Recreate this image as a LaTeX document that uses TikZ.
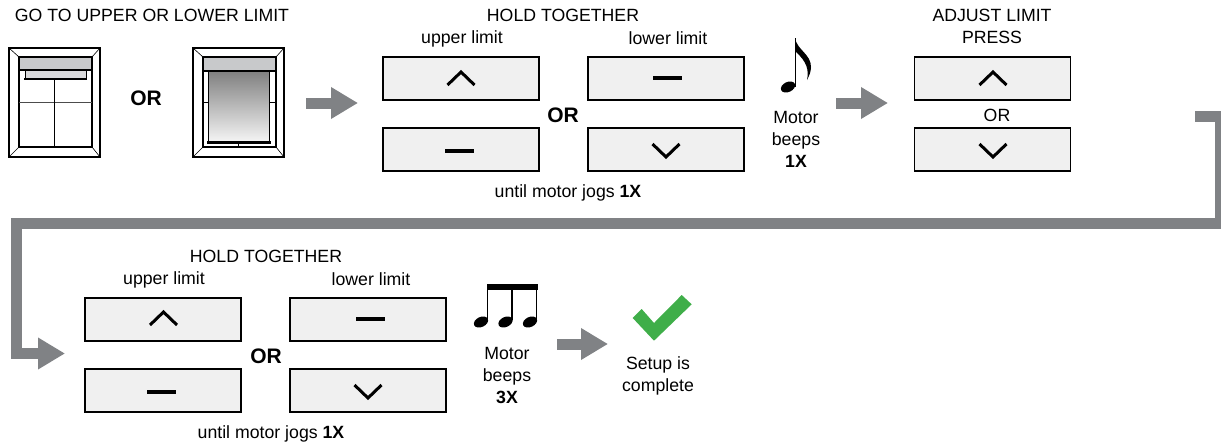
\documentclass[tikz,border=0pt]{standalone}
\usepackage{fontspec}
\setmainfont{Liberation Sans}
\usetikzlibrary{arrows.meta}

\definecolor{flowgray}{RGB}{128,130,133}
\definecolor{keyfill}{RGB}{240,240,240}
\definecolor{headgray}{RGB}{200,201,203}
\definecolor{tickgreen}{RGB}{63,174,73}

\tikzset{
  keybox/.style={draw=black,fill=keyfill,line width=1.9pt,inner sep=0pt,minimum width=156pt,minimum height=43pt},
  caption/.style={inner sep=0pt,align=center,font=\fontsize{17.7}{22}\selectfont},
  orbold/.style={inner sep=0pt,font=\fontsize{21}{24}\selectfont\bfseries},
  keymark/.style={line width=3pt},
  flowline/.style={draw=flowgray,line width=11pt},
  flowarrow/.style={flowline,-{Triangle[length=27pt,width=30pt]}}
}

\begin{document}
\begin{tikzpicture}[x=1pt,y=-1pt]
 \useasboundingbox (0,0) rectangle (1221,445);
 \clip (0,0) rectangle (1221,445);

 % texts, top row
 \node[caption] (t1) at (152,15) {GO TO UPPER OR LOWER LIMIT};
 \node[orbold] (or1) at (146,98) {OR};
 \node[caption] (t2) at (563,15) {HOLD TOGETHER};
 \node[caption] (t3) at (462,39) {upper limit};
 \node[caption] (t4) at (668,38.5) {lower limit};
 \node[orbold] (or2) at (563,115) {OR};
 \node[caption] (t5) at (568,192.5) {until motor jogs \textbf{1X}};
 \node[caption] (t6) at (796,139) {Motor\\beeps\\\textbf{1X}};
 \node[caption] (t7) at (992,26.5) {ADJUST LIMIT\\PRESS};
 \node[caption] (or3) at (997,115) {OR};

 % texts, bottom row
 \node[caption] (t8) at (266,256) {HOLD TOGETHER};
 \node[caption] (t9) at (164,280) {upper limit};
 \node[caption] (t10) at (371,279.5) {lower limit};
 \node[orbold] (or4) at (266,356) {OR};
 \node[caption] (t11) at (271,433.5) {until motor jogs \textbf{1X}};
 \node[caption] (t12) at (507,375.5) {Motor\\beeps\\\textbf{3X}};
 \node[caption] (t13) at (658,375.5) {Setup is\\complete};

 % keys
 \node[keybox] (k1) at (461,78.5) {};
 \node[keybox] (k2) at (666,78.5) {};
 \node[keybox] (k3) at (461,149.5) {};
 \node[keybox] (k4) at (666,149.5) {};
 \node[keybox] (k5) at (992.5,78.5) {};
 \node[keybox] (k6) at (992.5,149.5) {};
 \node[keybox] (k7) at (163,319.5) {};
 \node[keybox] (k8) at (368,319.5) {};
 \node[keybox] (k9) at (163,390.5) {};
 \node[keybox] (k10) at (368,390.5) {};

 \foreach \x/\y in {461/72,993/72,163.5/312}
   \draw[keymark] (\x-13.5,\y+13) -- (\x,\y) -- (\x+13.5,\y+13);
 \foreach \x/\y in {666/157,993/157,368/398}
   \draw[keymark] (\x-13.5,\y-13) -- (\x,\y) -- (\x+13.5,\y-13);
 \foreach \x/\y in {667.5/78,459.5/151,370.5/319,161.5/392}
   \draw[line width=3.4pt] (\x-14.5,\y) -- (\x+14.5,\y);

 % windows
 \foreach \s/\n in {0/a,184/b} {
   \begin{scope}[shift={(\s,0)}]
   \draw[line width=1.1pt] (9,48) rectangle (100,157);
   \draw[line width=1.1pt] (19,57) rectangle (92,147);
   \draw[line width=.6pt] (9,48) -- (19,57) (100,48) -- (92,57) (9,157) -- (19,147) (100,157) -- (92,147);
   \end{scope}
 }
 \draw[line width=1pt,black!70] (19,102) -- (92,102);
 \draw[line width=1pt] (54,79) -- (54,147);
 \draw[line width=.8pt,fill=headgray!70] (25,70) rectangle (86,79);
 \draw[line width=2pt] (24,79.3) -- (87,79.3);
 \draw[line width=1.8pt,fill=headgray] (19,57) rectangle (92,70);

 \draw[line width=.8pt] (203,102) -- (208,102) (269,102) -- (276,102) (238,144) -- (238,147);
 \shade[top color=black!50,bottom color=black!4] (208,71) rectangle (269,142);
 \draw[line width=1pt] (208,71) -- (208,142) (269,71) -- (269,142);
 \draw[line width=2.6pt] (207,142.5) -- (271,142.5);
 \draw[line width=1.8pt,fill=headgray] (203,57) rectangle (276,71);

 % notes
 \fill[rotate around={25:(788,87)}] (788,87) ellipse [x radius=7.5pt,y radius=5pt];
 \draw[line width=1pt] (795.5,87) -- (795.5,38);
 \fill (795,38) .. controls (797,50) and (811,54) .. (811,67) .. controls (811,72) and (809,76) .. (807,80) .. controls (809,70) and (807,62) .. (796,52) -- cycle;

 \foreach \x in {481,505.5,530} {
   \fill[rotate around={25:(\x,322)}] (\x,322) ellipse [x radius=7.5pt,y radius=5pt];
   \draw[line width=1.2pt] (\x+6.5,320) -- (\x+6.5,285);
 }
 \fill (487,284) rectangle (537.5,290);

 % check mark
 \fill[tickgreen] (632.7,318) -- (641.7,309) -- (654,323) -- (681.7,295) -- (691.7,304.3) -- (654,340.7) -- cycle;

 % flow arrows
 \coordinate (a1) at (306,103);
 \coordinate (a2) at (358,103);
 \coordinate (a3) at (836,103);
 \coordinate (a4) at (888,103);
 \coordinate (a5) at (557,344);
 \coordinate (a6) at (608,344);
 \coordinate (w1) at (1195,116.5);
 \coordinate (w2) at (1220.5,223);
 \coordinate (w3) at (16,353.5);
 \coordinate (w4) at (65,353.5);

 \foreach \from/\to in {a1/a2,a3/a4,a5/a6}
    \draw[flowarrow] (\from) -- (\to);
 \draw[flowarrow] (w1) -| (w2) -| (w3) -- (w4);
\end{tikzpicture}
\end{document}
